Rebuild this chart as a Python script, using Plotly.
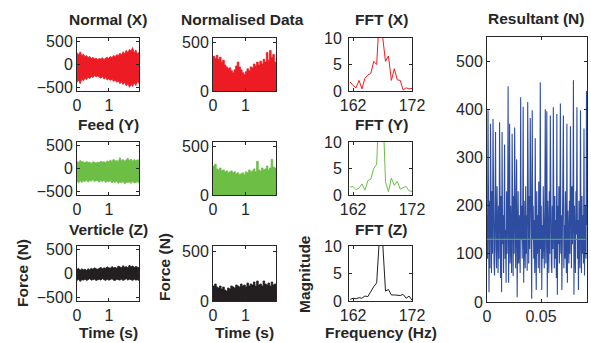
import numpy as np
import plotly.graph_objects as go

# ---------------- data ----------------
t_end = 1.94
x_upper = [260, 210, 280, 190, 230, 170, 200, 150, 180, 130, 160, 120, 140, 110, 130, 120, 150, 110, 140, 160,
           130, 180, 150, 200, 170, 220, 190, 250, 210, 280, 230, 310, 260, 330, 290, 370, 250, 320, 230, 270]
x_lower = [-390, -340, -420, -320, -360, -300, -330, -280, -310, -260, -290, -240, -270, -250, -280, -300, -260, -320, -290, -340,
           -310, -350, -320, -370, -340, -390, -360, -420, -380, -440, -390, -470, -420, -500, -440, -480, -400, -460, -370, -420]
y_upper = [160, 130, 180, 140, 150, 120, 160, 130, 140, 110, 150, 130, 120, 140, 130, 160, 140, 150, 130, 170,
           140, 190, 150, 210, 160, 180, 150, 240, 170, 200, 160, 190, 230, 170, 210, 160, 200, 170, 190, 180]
y_lower = [-280, -320, -260, -310, -270, -290, -250, -300, -260, -280, -240, -290, -260, -270, -300, -260, -290, -250, -310, -270,
           -300, -260, -320, -280, -310, -270, -330, -290, -320, -280, -340, -300, -310, -290, -330, -280, -320, -300, -290, -310]
z_upper = [90, 110, 70, 100, 80, 90, 70, 100, 80, 110, 90, 120, 100, 90, 110, 130, 100, 120, 110, 140,
           120, 110, 150, 120, 130, 110, 160, 130, 120, 170, 130, 150, 120, 180, 140, 160, 130, 150, 140, 120]
z_lower = [-150, -120, -170, -130, -140, -120, -150, -130, -110, -140, -130, -120, -150, -130, -120, -140, -110, -130, -150, -120,
           -140, -130, -110, -140, -150, -120, -130, -140, -120, -150, -130, -110, -140, -120, -130, -150, -120, -140, -130, -150]

norm_x = [360, 340, 370, 330, 350, 300, 320, 270, 250, 230, 240, 210, 190, 220, 260, 300, 250, 220, 190, 170,
          200, 230, 210, 250, 240, 280, 260, 300, 270, 310, 280, 330, 300, 400, 320, 420, 350, 380, 300, 280]
norm_y = [300, 320, 270, 260, 280, 250, 260, 240, 250, 230, 240, 250, 230, 240, 220, 230, 210, 220, 230, 210,
          240, 230, 260, 240, 250, 270, 240, 350, 260, 250, 280, 260, 270, 300, 260, 280, 370, 290, 280, 270]
norm_z = [150, 170, 140, 130, 150, 120, 140, 110, 100, 130, 120, 150, 140, 130, 160, 150, 140, 170, 150, 160,
          140, 180, 150, 170, 160, 190, 150, 200, 160, 170, 150, 200, 170, 160, 180, 150, 190, 160, 170, 150]

freq = [161.5, 162, 162.5, 163, 163.5, 164, 164.5, 165, 165.5, 166, 166.5,
        167, 167.5, 168, 168.5, 169, 169.5, 170, 170.5, 171, 171.5, 172]
fft_x = [1.7, 1.0, 0.6, 2.0, 0.4, 2.4, 3.0, 3.3, 5.6, 5.0, 15.0,
         10.3, 5.6, 6.6, 2.0, 4.2, 2.1, 2.0, 0.2, 0.6, 0.4, 0.5]
fft_y = [1.5, 1.6, 1.0, 1.3, 2.1, 0.9, 2.7, 3.0, 5.0, 5.8, 20.0,
         18.0, 2.5, 0.6, 3.2, 1.8, 2.6, 1.1, 1.4, 1.6, 0.8, 0.7]
fft_z = [0.3, 0.5, 0.4, 0.6, 0.5, 0.9, 0.8, 1.8, 2.6, 3.3, 12.0,
         11.0, 1.8, 2.1, 1.1, 1.1, 1.1, 1.0, 1.2, 0.5, 0.9, 0.15]

res_end = 0.0926
resultant = [180, 90, 398, 120, 20, 210, 70, 370, 140, 60, 230, 100, 380, 150, 80, 55, 190, 353, 110, 70,
             240, 130, 60, 200, 90, 373, 160, 50, 220, 20, 353, 120, 180, 60, 210, 327, 90, 150, 40, 230,
             100, 180, 448, 40, 160, 370, 80, 200, 120, 60, 349, 140, 54, 220, 100, 362, 170, 70, 190, 296,
             10, 150, 230, 80, 180, 110, 60, 425, 130, 200, 90, 160, 405, 40, 210, 120, 70, 240, 100, 180,
             65, 415, 140, 80, 220, 110, 382, 150, 60, 7, 398, 130, 200, 90, 170, 60, 340, 120, 25, 230,
             100, 180, 70, 250, 130, 60, 456, 110, 200, 25, 160, 90, 240, 130, 70, 190, 400, 80, 150, 396,
             10, 210, 120, 60, 230, 100, 387, 140, 80, 60, 200, 110, 404, 160, 70, 220, 90, 170, 50, 390,
             15, 200, 120, 240, 80, 150, 412, 100, 180, 25, 220, 130, 387, 70, 160, 90, 230, 110, 60, 370,
             40, 190, 130, 80, 210, 100, 365, 150, 70, 240, 120, 180, 460, 15, 200, 110, 60, 230, 140, 404,
             90, 170, 25, 210, 120, 70, 398, 150, 60, 220, 100, 180, 80, 360, 55, 200, 130, 90, 438, 160]
res_mean = 130

RED = "#ED1C24"
GREEN = "#6CBE45"
BLACK = "#231F20"
BLUE = "#2E4DA0"
MEANGREEN = "#4FA843"

W, H = 591, 343
FONT = "Arial, Liberation Sans, Helvetica, sans-serif"
TXT = "#262626"

def xd(a, b):
    return [a / W, b / W]

def yd(top, bot):
    return [1 - bot / H, 1 - top / H]

cols_x = [(77, 139), (213, 276), (349, 412)]
rows_y = [(38, 91), (142, 195), (246, 301)]

fig = go.Figure()
layout = {}
idx = 0

def add_axes(xdom, ydom, xr, yr, xt, yt, xtt=None, ystand=0):
    global idx
    idx += 1
    n = "" if idx == 1 else str(idx)
    common = dict(showline=True, linecolor=TXT, linewidth=1, mirror="ticks", ticks="inside",
                  ticklen=3, tickcolor=TXT, showgrid=False, zeroline=False, automargin=False,
                  tickfont=dict(family=FONT, size=16, color=TXT))
    layout["xaxis" + n] = dict(domain=xdom, range=xr, tickvals=xt, ticktext=xtt,
                               anchor="y" + n, **common)
    layout["yaxis" + n] = dict(domain=ydom, range=yr, tickvals=yt, anchor="x" + n,
                               ticklabelstandoff=ystand, **common)
    return "x" + n, "y" + n

bands = [(x_upper, x_lower, RED), (y_upper, y_lower, GREEN), (z_upper, z_lower, BLACK)]
norms = [(norm_x, RED), (norm_y, GREEN), (norm_z, BLACK)]
ffts = [(fft_x, RED), (fft_y, GREEN), (fft_z, BLACK)]

for r in range(3):
    top, bot = rows_y[r]
    # column 1: raw force
    up, lo, c = bands[r]
    tt = np.linspace(0, t_end, len(up))
    xa, ya = add_axes(xd(*cols_x[0]), yd(top, bot), [0, t_end], [-580, 580], [0, 1], [-500, 0, 500])
    fig.add_trace(go.Scatter(x=tt, y=lo, mode="lines", line=dict(color=c, width=0.8),
                             xaxis=xa, yaxis=ya, showlegend=False))
    fig.add_trace(go.Scatter(x=tt, y=up, mode="lines", line=dict(color=c, width=0.8), fill="tonexty",
                             fillcolor=c, xaxis=xa, yaxis=ya, showlegend=False))
    # column 2: normalised
    nv, c = norms[r]
    tt = np.linspace(0, t_end, len(nv))
    xa, ya = add_axes(xd(*cols_x[1]), yd(top, bot), [0, t_end], [0, 550], [0, 1], [0, 500])
    fig.add_trace(go.Scatter(x=tt, y=nv, mode="lines", line=dict(color=c, width=0.8, shape="hv"),
                             fill="tozeroy", fillcolor=c, xaxis=xa, yaxis=ya, showlegend=False))
    # column 3: FFT
    fv, c = ffts[r]
    xa, ya = add_axes(xd(*cols_x[2]), yd(top, bot), [161.3, 172], [0, 10], [162, 172], [0, 5, 10],
                      ystand=3)
    fig.add_trace(go.Scatter(x=freq, y=fv, mode="lines", line=dict(color=c, width=1),
                             xaxis=xa, yaxis=ya, showlegend=False, cliponaxis=True))

# resultant
tr = np.linspace(0, res_end, len(resultant))
xa, ya = add_axes(xd(487, 587), yd(37, 302), [0, res_end], [0, 550], [0, 0.05],
                  [0, 100, 200, 300, 400, 500], ["0", "0.05"])
fig.add_trace(go.Scatter(x=tr, y=resultant, mode="lines", line=dict(color=BLUE, width=1.1),
                         xaxis=xa, yaxis=ya, showlegend=False))
fig.add_trace(go.Scatter(x=[0, res_end], y=[res_mean, res_mean], mode="lines",
                         line=dict(color=MEANGREEN, width=1.2), xaxis=xa, yaxis=ya, showlegend=False))

ann = []
def label(text, x, y, size=15.5, angle=0):
    ann.append(dict(text="<b>" + text + "</b>", x=x / W, y=1 - y / H, xref="paper", yref="paper",
                    showarrow=False, textangle=angle, xanchor="center", yanchor="middle",
                    font=dict(family=FONT, size=size, color=TXT)))

label("Normal (X)", 108, 20)
label("Normalised Data", 242, 20)
label("FFT (X)", 381, 20)
label("Resultant (N)", 536, 18)
label("Feed (Y)", 108, 124)
label("FFT (Y)", 381, 124)
label("Verticle (Z)", 108, 229)
label("FFT (Z)", 381, 229)
label("Time (s)", 108, 332)
label("Time (s)", 244, 332)
label("Frequency (Hz)", 381, 332)
label("Force (N)", 22, 273, angle=-90)
label("Force (N)", 164, 267, angle=-90)
label("Magnitude", 304, 274, angle=-90)

fig.update_layout(template="none", width=W, height=H, margin=dict(l=0, r=0, t=0, b=0, pad=0),
                  paper_bgcolor="white", plot_bgcolor="white", annotations=ann, **layout)
fig.write_html("out.html")
